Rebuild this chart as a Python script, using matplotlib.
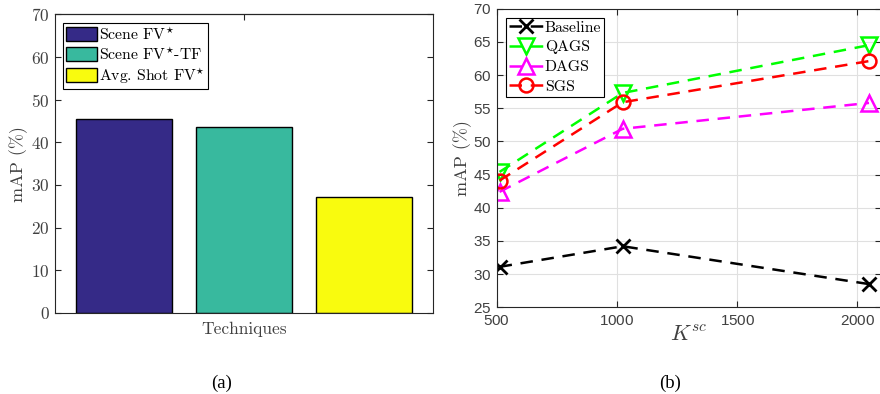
import matplotlib
matplotlib.use('Agg')
import matplotlib.pyplot as plt

plt.rcParams['mathtext.fontset'] = 'cm'
plt.rcParams['axes.formatter.use_mathtext'] = True

# (a) bar data
bar_names = ['Scene FV$^{\\star}$', 'Scene FV$^{\\star}$-TF', 'Avg. Shot FV$^{\\star}$']
bar_vals = [45.5, 43.7, 27.3]
bar_colors = ['#352a87', '#38b99e', '#f9fb0e']

# (b) line data
k_sc = [512, 1024, 2048]
baseline = [31.1, 34.2, 28.5]
qags = [45.4, 57.3, 64.5]
dags = [42.4, 51.9, 55.8]
sgs = [44.1, 55.9, 62.1]

serif = 'cmr10'
gray = '#262626'
txt = '#404040'

fig = plt.figure(figsize=(8.8, 3.94), dpi=100)

# ---- (a) ----
ax1 = fig.add_axes([0.0625, 0.2056, 0.4295, 0.758])
for i, (n, v, c) in enumerate(zip(bar_names, bar_vals, bar_colors)):
    ax1.bar(i, v, width=0.8, color=c, edgecolor='black', linewidth=1.0, label=n)
ax1.set_xlim(-0.575, 2.575)
ax1.set_ylim(0, 70)
ax1.set_yticks(range(0, 71, 10))
ax1.set_xticks([1])
ax1.set_xticklabels(['Techniques'], fontfamily=serif, fontsize=12.5, color=txt)
ax1.tick_params(axis='x', length=0, pad=6)
ax1.tick_params(axis='y', direction='in', right=True, length=4, labelsize=12.5,
                labelcolor=txt, color=gray, pad=4)
for lab in ax1.get_yticklabels():
    lab.set_fontfamily(serif)
sec = ax1.secondary_xaxis('top')
sec.set_xticks([1], labels=[''])
sec.tick_params(direction='in', length=4, color=gray)
ax1.set_ylabel('mAP (%)', fontfamily=serif, fontsize=13, color=txt, labelpad=2)
for s in ax1.spines.values():
    s.set_color(gray)
leg1 = ax1.legend(loc='upper left', bbox_to_anchor=(0.021, 0.972), prop={'family': serif, 'size': 11.3},
                  fancybox=False, edgecolor='black', framealpha=1, borderpad=0.18,
                  handlelength=2.0, handleheight=1.0, handletextpad=0.1, labelspacing=0.2,
                  borderaxespad=0)
leg1.get_frame().set_linewidth(0.8)
fig.text(0.252, 0.015, '(a)', fontfamily='Liberation Serif', fontsize=13.5, ha='center')

# ---- (b) ----
ax2 = fig.add_axes([0.5644, 0.220, 0.4373, 0.758])
ms = 10
dsh = (5, 3.5)
ax2.plot(k_sc, baseline, '--', color='black', marker='x', ms=ms, mew=2, lw=1.8, label='Baseline', dashes=dsh)
ax2.plot(k_sc, qags, '--', color='#00ff00', marker='v', ms=ms + 1, mew=1.8, mfc='none', lw=1.8, label='QAGS', dashes=dsh)
ax2.plot(k_sc, dags, '--', color='#ff00ff', marker='^', ms=ms + 1, mew=1.8, mfc='none', lw=1.8, label='DAGS', dashes=dsh)
ax2.plot(k_sc, sgs, '--', color='#ff0000', marker='o', ms=ms, mew=1.8, mfc='none', lw=1.8, label='SGS', dashes=dsh)
ax2.set_xlim(500, 2100)
ax2.set_ylim(25, 70)
ax2.set_xticks([500, 1000, 1500, 2000])
ax2.set_yticks(range(25, 71, 5))
ax2.grid(True, color='#e0e0e0', linewidth=0.8)
ax2.set_axisbelow(True)
ax2.tick_params(direction='in', top=True, right=True, length=4, labelsize=11,
                labelcolor=txt, color=gray)
ax2.tick_params(axis='x', pad=5)
for lab in ax2.get_xticklabels() + ax2.get_yticklabels():
    lab.set_fontfamily('Liberation Sans')
ax2.set_xlabel('$K^{sc}$', fontsize=16, color=txt, labelpad=-2)
ax2.set_ylabel('mAP (%)', fontfamily=serif, fontsize=13, color=txt, labelpad=1)
for s in ax2.spines.values():
    s.set_color(gray)
leg2 = ax2.legend(loc='upper left', bbox_to_anchor=(0.023, 0.97), prop={'family': serif, 'size': 11.3},
                  fancybox=False, edgecolor='black', framealpha=1, borderpad=0.2,
                  handlelength=2.2, handletextpad=0.1, labelspacing=0.36, borderaxespad=0)
leg2.get_frame().set_linewidth(0.8)
fig.text(0.761, 0.015, '(b)', fontfamily='Liberation Serif', fontsize=13.5, ha='center')

fig.savefig('out.png', dpi=100)
